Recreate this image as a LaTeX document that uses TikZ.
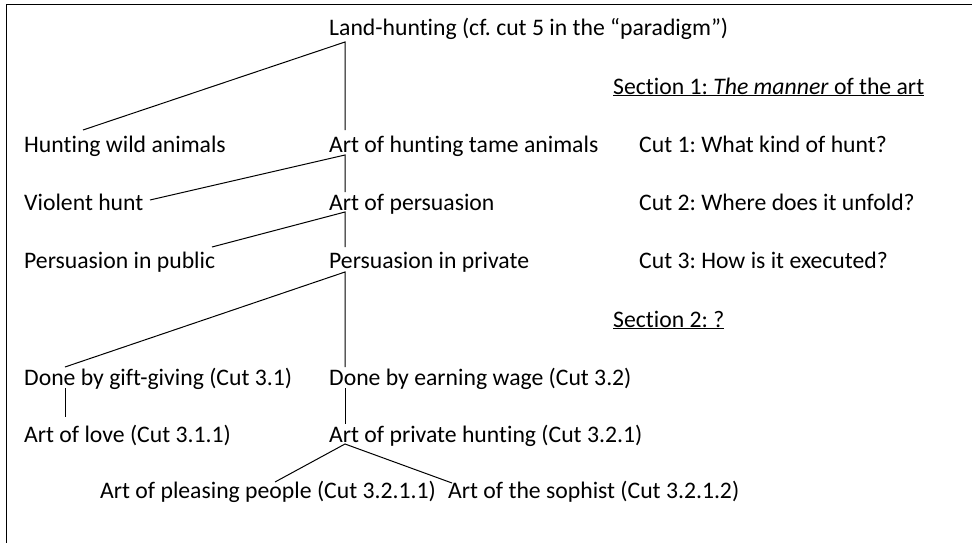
\documentclass[tikz,border=0pt]{standalone}
\usepackage{fontspec}
\setmainfont{Carlito}[Ligatures={NoCommon}]
\usetikzlibrary{calc}
\frenchspacing
\begin{document}
\begin{tikzpicture}[x=1pt,y=-1pt,
  lbl/.style={anchor=base west,inner sep=0pt,font=\fontsize{23.7}{28}\selectfont},
  conn/.style={line width=1pt},
  frameline/.style={line width=1.8pt}]
\useasboundingbox (0,0) rectangle (972,543);
\draw[frameline] (6.5,545) -- (6.5,4.5) -- (974,4.5);
% tree nodes
\node[lbl] (lh)  at (329,36)  {Land-hunting (cf. cut 5 in the “paradigm”)};
\node[lbl] (hw)  at (24,152)  {Hunting wild animals};
\node[lbl] (ah)  at (329,152) {Art of hunting tame animals};
\node[lbl] (vh)  at (24,210)  {Violent hunt};
\node[lbl] (ap)  at (329,210) {Art of persuasion};
\node[lbl] (pp)  at (24,268)  {Persuasion in public};
\node[lbl] (pr)  at (329,268) {Persuasion in private};
\node[lbl] (dg)  at (24,385)  {Done by gift-giving (Cut 3.1)};
\node[lbl] (dw)  at (329,385) {Done by earning wage (Cut 3.2)};
\node[lbl] (al)  at (24,442)  {Art of love (Cut 3.1.1)};
\node[lbl] (aph) at (329,442) {Art of private hunting (Cut 3.2.1)};
\node[lbl] (apl) at (100,498) {Art of pleasing people (Cut 3.2.1.1)};
\node[lbl] (as)  at (448,498) {Art of the sophist (Cut 3.2.1.2)};
% legend
\node[lbl] (s1) at (613,94)  {\underline{Section 1: \textit{The manner} of the art}};
\node[lbl] (c1) at (639,152) {Cut 1: What kind of hunt?};
\node[lbl] (c2) at (639,210) {Cut 2: Where does it unfold?};
\node[lbl] (c3) at (639,268) {Cut 3: How is it executed?};
\node[lbl] (s2) at (613,327) {\underline{Section 2: ?}};
% connectors
\draw[conn] ($(hw.base west)+(59,-22)$) -- ($(lh.base west)+(16,6)$) -- ($(ah.base west)+(16,-22)$);
\draw[conn] ($(vh.base west)+(126,-10)$) -- ($(ah.base west)+(16,3)$) -- ($(ap.base west)+(16,-18)$);
\draw[conn] ($(pp.base west)+(188,-21)$) -- ($(ap.base west)+(16,2)$) -- ($(pr.base west)+(16,-21)$);
\draw[conn] ($(dg.base west)+(41,-18)$) -- ($(pr.base west)+(16,4)$) -- ($(dw.base west)+(16,-18)$);
\draw[conn] ($(dg.base west)+(41,3)$) -- ($(al.base west)+(41,-25)$);
\draw[conn] ($(dw.base west)+(16,3)$) -- ($(aph.base west)+(16,-18)$);
\draw[conn] ($(apl.base west)+(175,-16)$) -- ($(aph.base west)+(16,2)$) -- ($(as.base west)+(4,-15)$);
\end{tikzpicture}
\end{document}
